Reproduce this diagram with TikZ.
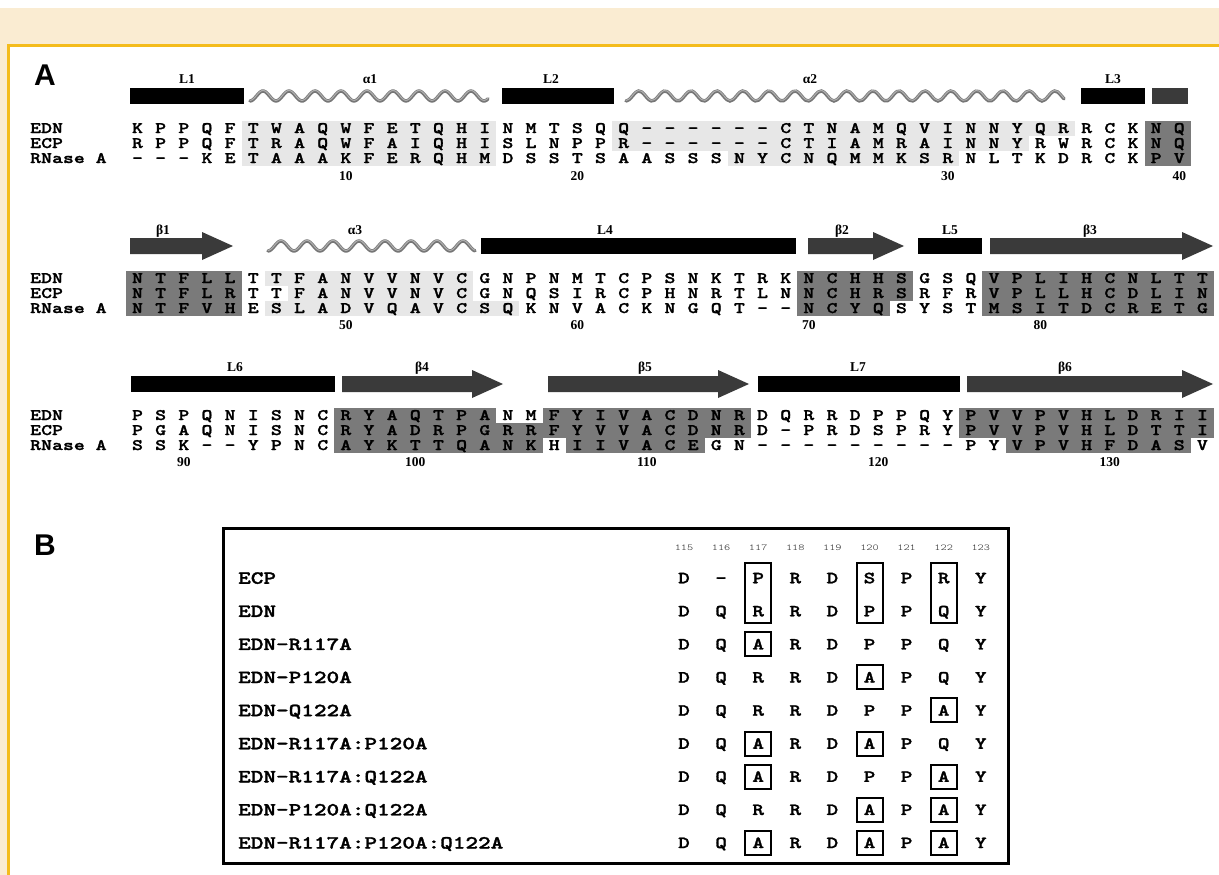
\documentclass[tikz,border=0pt]{standalone}
\usepackage{fontspec}
\setmainfont{Liberation Serif}
\newfontfamily\seqfont[Extension=.otf, UprightFont=lmmonolt10-regular,
  BoldFont=lmmonolt10-bold, BoldFeatures={FakeBold=1.6}, FakeStretch=1.3]{lmmonolt10}
\newfontfamily\panelfont{Liberation Sans}
\usetikzlibrary{positioning, calc}

\definecolor{cream}{RGB}{250,236,210}
\definecolor{gold}{RGB}{244,188,28}
\definecolor{LS}{RGB}{231,231,231}
\definecolor{DS}{RGB}{122,122,122}
\definecolor{ST}{RGB}{58,58,58}
\definecolor{HX}{RGB}{118,118,118}
\definecolor{HL}{RGB}{175,175,175}
\definecolor{DG}{RGB}{35,35,35}

% shaded run of cells: row y, first col, last col, colour
\newcommand{\cellrun}[4]{%
  \fill[#4] ({137.5+(#2-1.5)*23.15},{#1-7.5}) rectangle ({137.5+(#3-0.5)*23.15},{#1+7.5});}
% one row of residues: name, y, residues
\newcommand{\seqrow}[3]{%
  \foreach \ch [count=\c] in {#3}{\node[res] (#1-\c) at ({137.5+(\c-1)*23.15},#2) {\ch};}}
% loop bar, helix, strand: x from, x to, y
\newcommand{\loopbar}[3]{\fill (#1,{#3-8}) rectangle (#2,{#3+8});}
\newcommand{\helixat}[3]{%
  \draw[HX, line width=3.4pt, line cap=round] plot[domain=#1:#2, samples=140, smooth]
    (\x,{#3+5*cos((\x-#1)/26*360)});
  \draw[HL, line width=1pt, line cap=round] plot[domain=#1:#2, samples=140, smooth]
    (\x,{#3-0.6+5*cos((\x-#1)/26*360)});}
\newcommand{\strandat}[3]{%
  \fill[ST] (#1,{#3-8}) -- ({#2-31},{#3-8}) -- ({#2-31},{#3-14}) -- (#2,#3)
    -- ({#2-31},{#3+14}) -- ({#2-31},{#3+8}) -- (#1,{#3+8}) -- cycle;}

\begin{document}
\begin{tikzpicture}[x=1pt, y=-1pt,
  res/.style={font=\seqfont\bfseries\fontsize{16}{16}\selectfont, inner sep=0pt,
              text height=10pt, text depth=0pt},
  rowlbl/.style={res, anchor=west},
  sslbl/.style={font=\bfseries\fontsize{13.5}{13.5}\selectfont, inner sep=0pt,
                text height=9pt, text depth=0pt},
  num/.style={sslbl},
  panel/.style={font=\panelfont\bfseries\fontsize{30}{30}\selectfont, inner sep=0pt,
                text height=21pt, text depth=0pt},
  mutlbl/.style={font=\seqfont\bfseries\fontsize{18.5}{18.5}\selectfont, anchor=west,
                 inner sep=0pt, text height=11.5pt, text depth=0pt},
  tabres/.style={font=\seqfont\bfseries\fontsize{17}{17}\selectfont, inner sep=0pt,
                 text height=10.5pt, text depth=0pt},
  posnum/.style={font=\seqfont\fontsize{9}{9}\selectfont, inner sep=0pt, text=DG},
  mutbox/.style={line width=2pt}
]
\useasboundingbox (0,0) rectangle (1219,875);
% page frame
\fill[white] (0,0) rectangle (1219,875);
\fill[cream] (0,8) rectangle (1219,44);
\fill[cream] (0,44) rectangle (7,875);
\draw[gold, line width=3pt] (8.5,875) -- (8.5,45.5) -- (1219,45.5);

\node[panel] (pA) at (45,75) {A};
\node[panel] (pB) at (45,545) {B};

% ---- block 1 (residues 1-40)
\cellrun{128}{6}{16}{LS} \cellrun{143}{6}{16}{LS} \cellrun{158}{6}{16}{LS}
\cellrun{128}{22}{41}{LS} \cellrun{143}{22}{39}{LS} \cellrun{158}{27}{36}{LS}
\foreach \y in {128,143,158}{\cellrun{\y}{45}{46}{DS}}

\loopbar{130}{244}{96}   \node[sslbl] (sL1) at (187,79) {L1};
\helixat{250}{488}{96}   \node[sslbl] (sa1) at (370,79) {α1};
\loopbar{502}{614}{96}   \node[sslbl] (sL2) at (551,79) {L2};
\helixat{626}{1064}{96}  \node[sslbl] (sa2) at (810,79) {α2};
\loopbar{1081}{1145}{96} \node[sslbl] (sL3) at (1113,79) {L3};
\fill[ST] (1152,88) rectangle (1188,104);

\node[rowlbl] (r1a) at (30,128) {EDN};
\node[rowlbl] (r1b) at (30,143) {ECP};
\node[rowlbl] (r1c) at (30,158) {RNase A};
\seqrow{edn1}{128}{K,P,P,Q,F,T,W,A,Q,W,F,E,T,Q,H,I,N,M,T,S,Q,Q,-,-,-,-,-,-,C,T,N,A,M,Q,V,I,N,N,Y,Q,R,R,C,K,N,Q}
\seqrow{ecp1}{143}{R,P,P,Q,F,T,R,A,Q,W,F,A,I,Q,H,I,S,L,N,P,P,R,-,-,-,-,-,-,C,T,I,A,M,R,A,I,N,N,Y,R,W,R,C,K,N,Q}
\seqrow{rna1}{158}{-,-,-,K,E,T,A,A,A,K,F,E,R,Q,H,M,D,S,S,T,S,A,A,S,S,S,N,Y,C,N,Q,M,M,K,S,R,N,L,T,K,D,R,C,K,P,V}
\foreach \n/\c in {10/10,20/20,30/36,40/46}{
  \node[num] (n\n) at ({137.5+(\c-1)*23.15},176) {\n};
}

% ---- block 2 (residues 41-87)
\foreach \y in {278,293,308}{\cellrun{\y}{1}{5}{DS} \cellrun{\y}{38}{47}{DS}}
\cellrun{278}{30}{34}{DS} \cellrun{293}{30}{34}{DS} \cellrun{308}{30}{33}{DS}
\cellrun{278}{7}{15}{LS} \cellrun{293}{8}{15}{LS} \cellrun{308}{7}{17}{LS}

\strandat{130}{233}{246}  \node[sslbl] (sb1) at (163,230) {β1};
\helixat{268}{475}{246}   \node[sslbl] (sa3) at (355,230) {α3};
\loopbar{481}{796}{246}   \node[sslbl] (sL4) at (605,230) {L4};
\strandat{808}{904}{246}  \node[sslbl] (sb2) at (842,230) {β2};
\loopbar{918}{982}{246}   \node[sslbl] (sL5) at (950,230) {L5};
\strandat{990}{1213}{246} \node[sslbl] (sb3) at (1090,230) {β3};

\node[rowlbl] (r2a) at (30,278) {EDN};
\node[rowlbl] (r2b) at (30,293) {ECP};
\node[rowlbl] (r2c) at (30,308) {RNase A};
\seqrow{edn2}{278}{N,T,F,L,L,T,T,F,A,N,V,V,N,V,C,G,N,P,N,M,T,C,P,S,N,K,T,R,K,N,C,H,H,S,G,S,Q,V,P,L,I,H,C,N,L,T,T}
\seqrow{ecp2}{293}{N,T,F,L,R,T,T,F,A,N,V,V,N,V,C,G,N,Q,S,I,R,C,P,H,N,R,T,L,N,N,C,H,R,S,R,F,R,V,P,L,L,H,C,D,L,I,N}
\seqrow{rna2}{308}{N,T,F,V,H,E,S,L,A,D,V,Q,A,V,C,S,Q,K,N,V,A,C,K,N,G,Q,T,-,-,N,C,Y,Q,S,Y,S,T,M,S,I,T,D,C,R,E,T,G}
\foreach \n/\c in {50/10,60/20,70/30,80/40}{
  \node[num] (n\n) at ({137.5+(\c-1)*23.15},325) {\n};
}

% ---- block 3 (residues 88-134)
\cellrun{415}{10}{16}{DS} \cellrun{415}{19}{27}{DS} \cellrun{430}{10}{27}{DS}
\cellrun{445}{10}{18}{DS} \cellrun{445}{20}{25}{DS}
\cellrun{415}{37}{47}{DS} \cellrun{430}{37}{47}{DS} \cellrun{445}{39}{46}{DS}

\loopbar{131}{335}{384}   \node[sslbl] (sL6) at (235,367) {L6};
\strandat{342}{503}{384}  \node[sslbl] (sb4) at (422,367) {β4};
\strandat{548}{749}{384}  \node[sslbl] (sb5) at (645,367) {β5};
\loopbar{758}{960}{384}   \node[sslbl] (sL7) at (858,367) {L7};
\strandat{967}{1213}{384} \node[sslbl] (sb6) at (1065,367) {β6};

\node[rowlbl] (r3a) at (30,415) {EDN};
\node[rowlbl] (r3b) at (30,430) {ECP};
\node[rowlbl] (r3c) at (30,445) {RNase A};
\seqrow{edn3}{415}{P,S,P,Q,N,I,S,N,C,R,Y,A,Q,T,P,A,N,M,F,Y,I,V,A,C,D,N,R,D,Q,R,R,D,P,P,Q,Y,P,V,V,P,V,H,L,D,R,I,I}
\seqrow{ecp3}{430}{P,G,A,Q,N,I,S,N,C,R,Y,A,D,R,P,G,R,R,F,Y,V,V,A,C,D,N,R,D,-,P,R,D,S,P,R,Y,P,V,V,P,V,H,L,D,T,T,I}
\seqrow{rna3}{445}{S,S,K,-,-,Y,P,N,C,A,Y,K,T,T,Q,A,N,K,H,I,I,V,A,C,E,G,N,-,-,-,-,-,-,-,-,-,P,Y,V,P,V,H,F,D,A,S,V}
\foreach \n/\c in {90/3,100/13,110/23,120/33,130/43}{
  \node[num] (n\n) at ({137.5+(\c-1)*23.15},462) {\n};
}

% ---- panel B: mutants of the 115-123 loop
\draw[line width=3pt] (223,528) rectangle (1008,863);
\foreach \k in {0,...,8}{
  \pgfmathtruncatemacro{\pos}{115+\k}
  \node[posnum] (p\pos) at ({684+\k*37.1},548) {\pos};
}
\foreach \lbl/\seq [count=\r] in {
    ECP/{D,-,P,R,D,S,P,R,Y},
    EDN/{D,Q,R,R,D,P,P,Q,Y},
    EDN-R117A/{D,Q,A,R,D,P,P,Q,Y},
    EDN-P120A/{D,Q,R,R,D,A,P,Q,Y},
    EDN-Q122A/{D,Q,R,R,D,P,P,A,Y},
    EDN-R117A:P120A/{D,Q,A,R,D,A,P,Q,Y},
    EDN-R117A:Q122A/{D,Q,A,R,D,P,P,A,Y},
    EDN-P120A:Q122A/{D,Q,R,R,D,A,P,A,Y},
    EDN-R117A:P120A:Q122A/{D,Q,A,R,D,A,P,A,Y}}{
  \node[mutlbl] (m\r) at (238,{578+(\r-1)*33.1}) {\lbl};
  \foreach \ch [count=\c] in \seq{
    \node[tabres] (t\r-\c) at ({684+(\c-1)*37.1},{578+(\r-1)*33.1}) {\ch};
  }
}
% ECP vs EDN differences
\foreach \c in {3,6,8}{
  \draw[mutbox] ($(t1-\c)+(-13,-15)$) rectangle ($(t2-\c)+(13,12)$);
}
% alanine substitutions
\foreach \r/\c in {3/3,4/6,5/8,6/3,6/6,7/3,7/8,8/6,8/8,9/3,9/6,9/8}{
  \draw[mutbox] ($(t\r-\c)+(-13,-12)$) rectangle ($(t\r-\c)+(13,12)$);
}
\end{tikzpicture}
\end{document}
